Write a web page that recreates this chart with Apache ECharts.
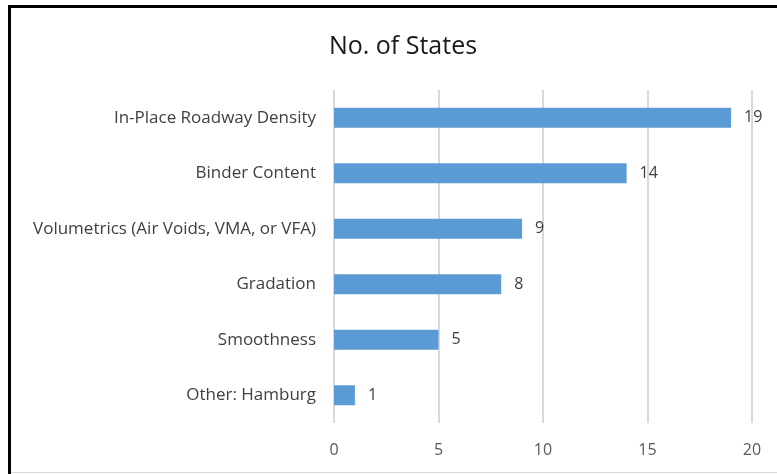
<!DOCTYPE html>
<html>
<head>
<meta charset="utf-8">
<script src="https://cdn.jsdelivr.net/npm/echarts@6/dist/echarts.min.js"></script>
<style>
  html, body { margin: 0; padding: 0; background: #fff; }
  #chart { width: 777px; height: 474px; }
</style>
</head>
<body>
<div id="chart"></div>
<script>
const categories = [
    "Other: Hamburg",
    "Smoothness",
    "Gradation",
    "Volumetrics (Air Voids, VMA, or VFA)",
    "Binder Content",
    "In-Place Roadway Density"
];
const stateCounts = [1, 5, 8, 9, 14, 19];
const xTicks = [0, 5, 10, 15, 20];

const labelFont = "'Open Sans', 'Noto Sans', sans-serif";

let chart = echarts.init(document.getElementById("chart"));
chart.setOption({
    animation: false,
    title: {
        text: "No. of States",
        left: 398,
        top: 29,
        textAlign: "center",
        textStyle: {
            fontFamily: labelFont,
            fontSize: 25,
            fontWeight: "normal",
            color: "#1a1a1a"
        }
    },
    graphic: [
        {
            type: "rect",
            shape: { x: 9.5, y: 6.5, width: 800, height: 500 },
            style: { fill: null, stroke: "#000", lineWidth: 3 }
        },
        {
            type: "line",
            shape: { x1: 11, y1: 472.5, x2: 777, y2: 472.5 },
            style: { stroke: "#d9d9d9", lineWidth: 1 }
        }
    ],
    grid: {
        left: 334,
        right: 25,
        top: 90,
        bottom: 51
    },
    xAxis: {
        type: "value",
        min: 0,
        max: 20,
        interval: 5,
        axisLine: { show: false },
        axisTick: { show: false },
        axisLabel: {
            color: "#595959",
            fontFamily: labelFont,
            fontSize: 16,
            margin: 19,
            formatter: function (v) { return xTicks.indexOf(v) >= 0 ? String(v) : ""; }
        },
        splitLine: {
            show: true,
            lineStyle: { color: "#d9d9d9", width: 2 }
        }
    },
    yAxis: {
        type: "category",
        data: categories,
        axisLine: { show: false },
        axisTick: { show: false },
        axisLabel: {
            color: "#404040",
            fontFamily: labelFont,
            fontSize: 17,
            margin: 18,
            padding: [2, 0, 0, 0]
        }
    },
    series: [
        {
            name: "No. of States",
            type: "bar",
            data: stateCounts,
            barWidth: "36%",
            itemStyle: { color: "#5b9bd5" },
            label: {
                show: true,
                position: "right",
                distance: 13,
                color: "#404040",
                fontFamily: labelFont,
                fontSize: 16,
                padding: [2, 0, 0, 0]
            }
        }
    ]
});
</script>
</body>
</html>
